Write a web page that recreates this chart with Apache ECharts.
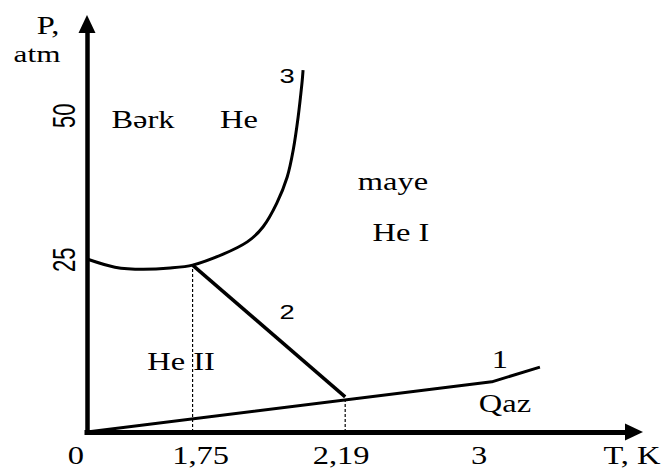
<!DOCTYPE html>
<html>
<head>
<meta charset="utf-8">
<script src="https://cdn.jsdelivr.net/npm/echarts@6/dist/echarts.min.js"></script>
<style>
html,body{margin:0;padding:0;background:#fff;}
#c{width:665px;height:468px;}
</style>
</head>
<body>
<div id="c"></div>
<script>
// Schematic helium phase diagram (positions in schematic diagram units 0..100)
const xTickValues = [0, 19.3, 47.2, 71.7];
const xTickLabels = ['0', '1,75', '2,19', '3'];
const yTickValues = [42.2, 77.5];
const yTickLabels = ['25', '50'];

// curve 3: solid / liquid boundary
const meltingCurve = [[0, 42.4], [5.1, 40.4], [10.3, 39.9], [15.2, 40.2], [19.3, 40.9], [24.9, 43.6], [29.3, 46.6], [32.2, 50.3], [34.7, 56.1], [36.6, 62.5], [37.7, 69.1], [38.6, 77.2], [39.3, 85.5], [39.5, 88.7]];
// line 2: lambda line He I / He II
const lambdaLine = [[19.3, 40.9], [47.2, 8.6]];
// line 1: vapour pressure curve
const vaporCurve = [[0, 0], [74.0, 12.3], [82.8, 15.9]];
// dashed drop lines
const drop175 = [[19.3, 0], [19.3, 40.9]];
const drop219 = [[47.2, 0], [47.2, 8.6]];

const chart = echarts.init(document.getElementById('c'), null, {renderer: 'svg'});
const axisLineStyle = (w) => ({show: true, symbol: ['none', 'triangle'], symbolSize: [17, 18], lineStyle: {color: '#000', width: w, cap: 'square'}});
chart.setOption({
  animation: false,
  backgroundColor: '#fff',
  grid: {left: 87, right: 31, top: 24, bottom: 36, containLabel: false},
  xAxis: {type: 'value', min: 0, max: 100, axisLine: axisLineStyle(5), axisTick: {show: false}, axisLabel: {show: false}, splitLine: {show: false}},
  yAxis: {type: 'value', min: 0, max: 100, axisLine: axisLineStyle(4.5), axisTick: {show: false}, axisLabel: {show: false}, splitLine: {show: false}},
  series: [
    {type: 'line', data: meltingCurve, smooth: 0.3, symbol: 'none', lineStyle: {color: '#000', width: 3}},
    {type: 'line', data: lambdaLine, symbol: 'none', lineStyle: {color: '#000', width: 3.5}},
    {type: 'line', data: vaporCurve, symbol: 'none', lineStyle: {color: '#000', width: 3}},
    {type: 'line', data: drop175, symbol: 'none', lineStyle: {color: '#000', width: 1.2, type: [3, 2]}},
    {type: 'line', data: drop219, symbol: 'none', lineStyle: {color: '#000', width: 1.2, type: [3, 2]}}
  ]
});

const SERIF = '"Liberation Serif", "Times New Roman", serif';
const SANS = '"Liberation Sans", Arial, sans-serif';
function txt(text, x, y, size, family, extra) {
  return Object.assign({
    type: 'text', x: x, y: y, scaleX: 1.3, silent: true, z: 100,
    style: {text: text, fontSize: size, fontFamily: family, fill: '#000', align: 'center', verticalAlign: 'middle', lineHeight: Math.round(size * 0.85)}
  }, extra || {});
}
const g = [];
const xDx = [-11, 8, -4, 0];
xTickValues.forEach((v, i) => {
  const p = chart.convertToPixel({gridIndex: 0}, [v, 0]);
  g.push(txt(xTickLabels[i], p[0] + xDx[i], 455, 25, SERIF));
});
yTickValues.forEach((v, i) => {
  const p = chart.convertToPixel({gridIndex: 0}, [0, v]);
  g.push(txt(yTickLabels[i], 65, p[1], 22, SANS, {rotation: Math.PI / 2, scaleX: 1, scaleY: 1.4}));
});
g.push(txt('T, K', 632, 455, 25, SERIF));
g.push(txt('P,', 48, 25, 25, SERIF));
g.push(txt('atm', 37, 54, 24, SERIF));
g.push(txt('Bərk', 143, 119, 25, SERIF));
g.push(txt('He', 239, 119, 25, SERIF));
g.push(txt('3', 287, 76, 21, SANS));
g.push(txt('maye', 393, 181, 25, SERIF));
g.push(txt('He I', 401, 232, 25, SERIF));
g.push(txt('2', 287, 312, 21, SANS));
g.push(txt('He II', 181, 361, 25, SERIF));
g.push(txt('1', 500, 359, 25, SERIF));
g.push(txt('Qaz', 505, 403, 25, SERIF));
chart.setOption({graphic: g});
</script>
</body>
</html>
